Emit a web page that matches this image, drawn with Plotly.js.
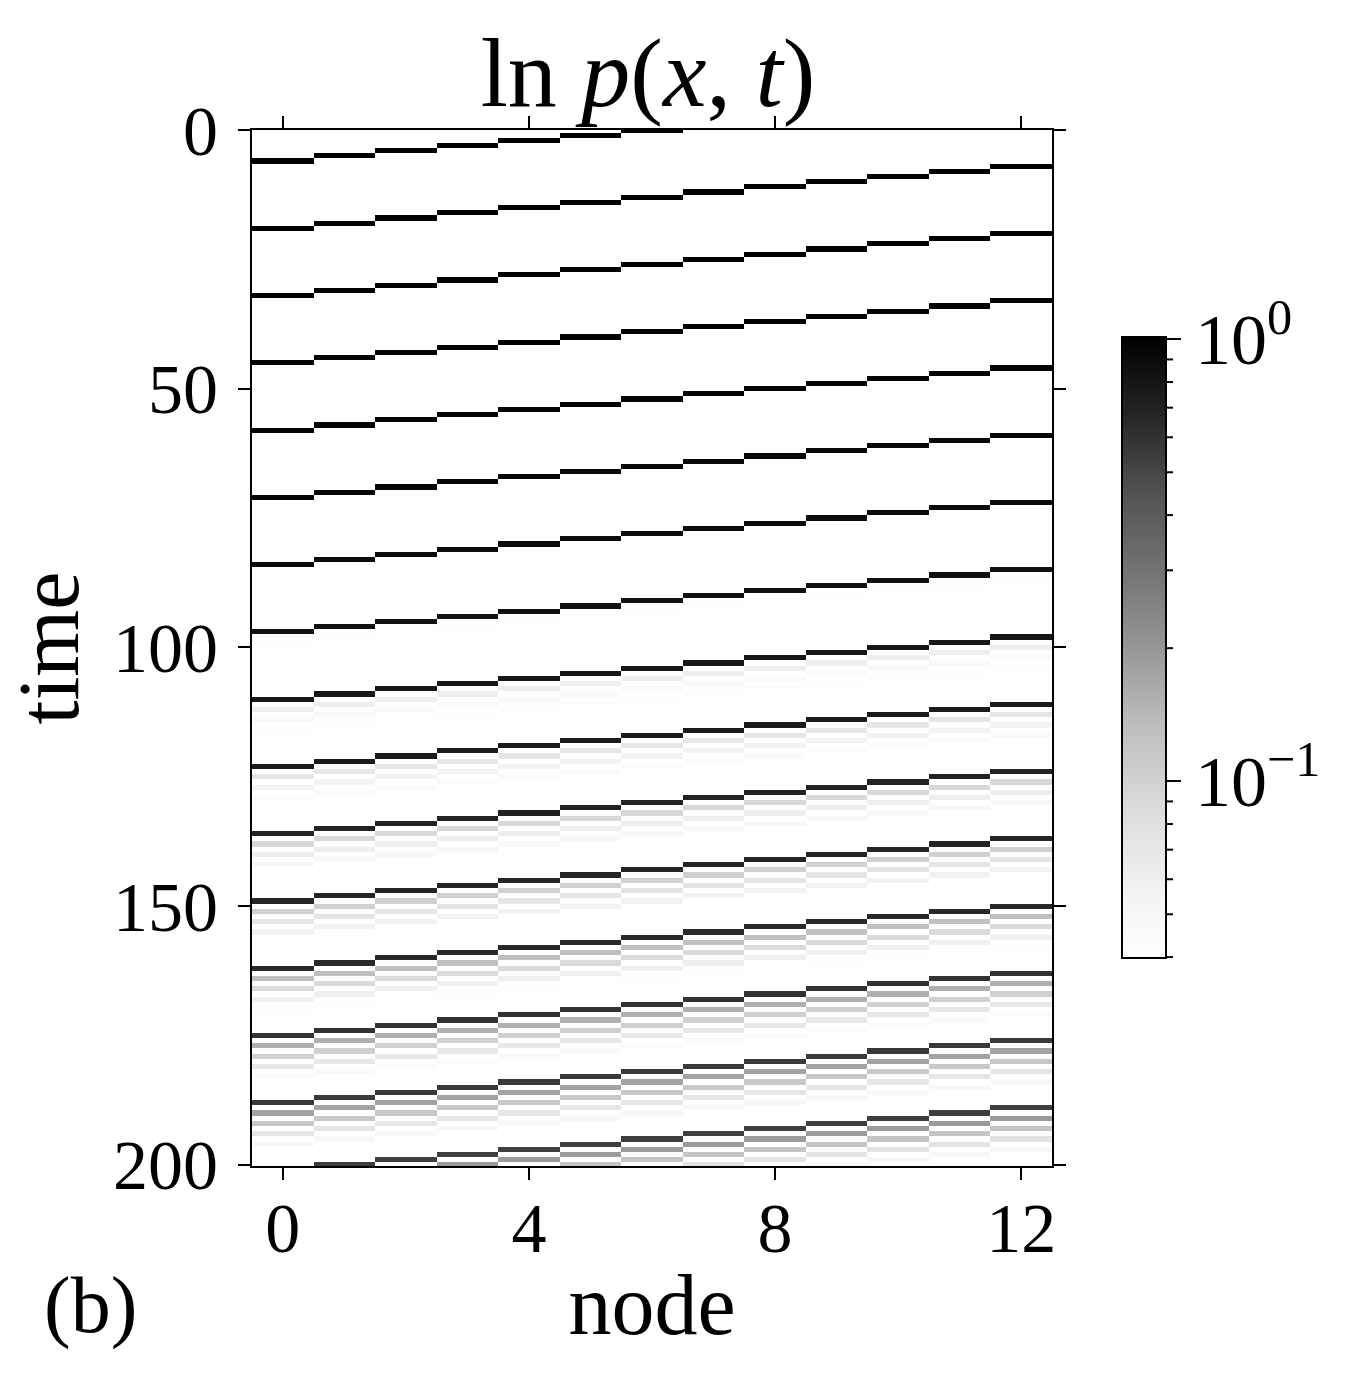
<!DOCTYPE html>
<html>
<head>
<meta charset="utf-8">
<script src="https://cdn.plot.ly/plotly-3.0.1.min.js"></script>
<style>html,body{margin:0;padding:0;background:#fff;}</style>
</head>
<body>
<div id="chart" style="width:1357px;height:1384px;"></div>
<script>
// ---- data ----
const nodes = [0,1,2,3,4,5,6,7,8,9,10,11,12];
const tMax = 200;
// time at which the peak passes node 0, one entry per stripe
const node0PeakTimes = [6,19,32,45,58,71,84,97,110,123,136,149,162,175,188,201];
// probability on the peak and on the rows trailing it (lag in time steps)
const peakVals = [1.0,1.0,1.0,0.99,0.97,0.94,0.90,0.84,0.79,0.75,0.70,0.675,0.65,0.60,0.57,0.54];
const lag2Vals = [0,0,0,0,0,0,0,0.042,0.062,0.071,0.091,0.102,0.128,0.153,0.175,0.19];
const lag4Vals = [0,0,0,0,0,0,0,0,0.047,0.055,0.062,0.072,0.088,0.102,0.114,0.12];
const lag6Vals = [0,0,0,0,0,0,0,0,0.042,0.045,0.048,0.0565,0.06,0.0686,0.071,0.075];
const lag8Vals = [0,0,0,0,0,0,0,0,0,0,0,0,0.042,0.045,0.048,0.05];
const lagSteps = [0,2,4,6,8];
const xTicks = [0,4,8,12];
const yTicks = [0,50,100,150,200];
const cbMajor = [1, 0.1];
const cbMajorText = ['10<sup>0</sup>','10<sup>\u22121</sup>'];
const cbMinor = [0.9,0.8,0.7,0.6,0.5,0.4,0.3,0.2,0.09,0.08,0.07,0.06,0.05,0.04];

// ---- build the matrix ----
const times = [];
for (let t = 0; t <= tMax; t++) times.push(t);
const z = times.map(() => nodes.map(() => null));
const lagTables = [peakVals, lag2Vals, lag4Vals, lag6Vals, lag8Vals];
node0PeakTimes.forEach((T0, k) => {
  nodes.forEach((n) => {
    const T = T0 - n;
    lagSteps.forEach((L, li) => {
      const v = lagTables[li][k];
      const t = T + L;
      if (v > 0 && t >= 0 && t <= tMax) z[t][n] = Math.log10(v);
    });
  });
});

const zmin = -1.40, zmax = 0.005;
const greys = [[0,'#ffffff'],[0.125,'#f0f0f0'],[0.25,'#d9d9d9'],[0.375,'#bdbdbd'],
  [0.5,'#969696'],[0.625,'#737373'],[0.75,'#525252'],[0.875,'#252525'],[1,'#000000']];

const font = 'Liberation Serif, Times New Roman, serif';

// plot area in pixels
const L = 252, R = 1052, T = 130, B = 1166, W = 1357, H = 1384;
const cbLeft = 1122, cbThick = 44, cbTop = 337, cbBot = 958;
const pw = R - L, ph = B - T;

const trace = {
  type: 'heatmap', x: nodes, y: times, z: z,
  zmin: zmin, zmax: zmax, colorscale: greys, hoverinfo: 'skip',
  colorbar: {
    thicknessmode: 'pixels', thickness: cbThick,
    lenmode: 'pixels', len: cbBot - cbTop,
    x: (cbLeft - L) / pw, xanchor: 'left', xref: 'paper',
    y: (B - (cbTop + cbBot) / 2) / ph, yanchor: 'middle', yref: 'paper',
    xpad: 0, ypad: 0,
    outlinewidth: 2, outlinecolor: '#000',
    tickmode: 'array', tickvals: cbMajor.map(Math.log10), ticktext: cbMajorText,
    ticks: 'outside', ticklen: 14, tickwidth: 2, tickcolor: '#000',
    tickfont: {family: font, size: 72, color: '#000'}
  }
};

// minor ticks of the colour bar, placed through the colour scale range
const shapes = cbMinor.map(v => {
  const frac = (Math.log10(v) - zmin) / (zmax - zmin);
  const ypx = cbBot - frac * (cbBot - cbTop);
  const yp = (B - ypx) / ph;
  const x0 = (cbLeft + cbThick - L) / pw;
  return {type: 'line', xref: 'paper', yref: 'paper', x0: x0, x1: x0 + 7 / pw,
    y0: yp, y1: yp, line: {color: '#000', width: 2}};
});

const axisCommon = {
  showline: true, linecolor: '#000', linewidth: 2, mirror: 'ticks',
  ticks: 'outside', ticklen: 12, tickwidth: 2, tickcolor: '#000',
  showgrid: false, zeroline: false,
  tickfont: {family: font, size: 70, color: '#000'}, tickmode: 'array'
};

const layout = {
  width: W, height: H,
  margin: {l: L, r: W - R, t: T, b: H - B, pad: 0},
  paper_bgcolor: '#fff', plot_bgcolor: '#fff',
  font: {family: font, color: '#000'},
  title: {text: 'ln <i>p</i>(<i>x</i>, <i>t</i>)', font: {family: font, size: 98, color: '#000'},
    xref: 'paper', x: 0.495, xanchor: 'center', yref: 'container', y: 1 - 72 / H, yanchor: 'middle'},
  xaxis: Object.assign({}, axisCommon, {
    range: [-0.5, 12.5], tickvals: xTicks, ticktext: xTicks.map(String),
    ticklabelstandoff: -12,
    title: {text: 'node', font: {family: font, size: 86, color: '#000'}, standoff: 8}
  }),
  yaxis: Object.assign({}, axisCommon, {
    range: [200.2, 0], tickvals: yTicks, ticktext: yTicks.map(String),
    ticklabelstandoff: 6,
    title: {text: 'time', font: {family: font, size: 86, color: '#000'}, standoff: 6}
  }),
  shapes: shapes,
  annotations: [{
    text: '(b)', xref: 'paper', yref: 'paper', showarrow: false,
    x: (90 - L) / pw, y: (B - 1305) / ph, xanchor: 'center', yanchor: 'middle',
    font: {family: font, size: 80, color: '#000'}
  }]
};

Plotly.newPlot('chart', [trace], layout, {displayModeBar: false, staticPlot: true});
</script>
</body>
</html>
